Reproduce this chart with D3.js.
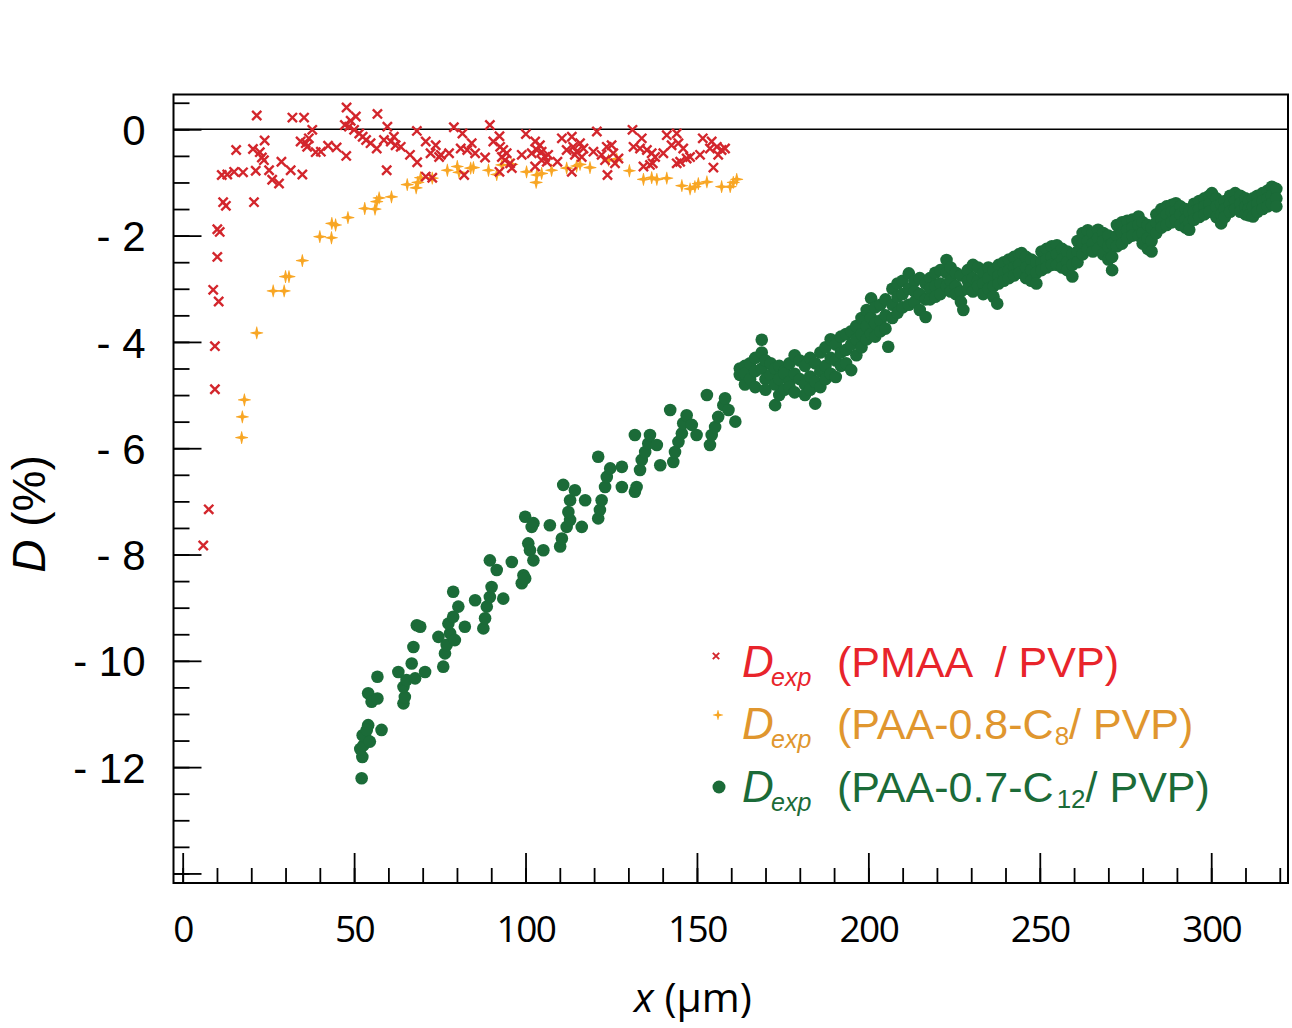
<!DOCTYPE html>
<html>
<head>
<meta charset="utf-8">
<script src="https://cdn.jsdelivr.net/npm/d3@7"></script>
<style>
body { margin: 0; background: #fff; }
svg { display: block; }
.leg { white-space: pre; }
</style>
</head>
<body>
<div id="chart"></div>
<script>
// D exp (PMAA / PVP), [x µm, D %]
var pmaa = [[6.0,-7.83],[7.6,-7.15],[9.4,-4.89],[9.4,-4.08],[8.9,-3.02],[10.5,-3.24],[10.1,-2.40],[10.1,-1.88],[10.8,-1.93],
  [11.8,-1.37],[12.6,-1.44],[11.4,-0.86],[13.0,-0.85],[15.0,-0.80],[17.6,-0.81],[15.6,-0.39],[20.8,-1.37],[21.3,-0.78],
  [20.5,-0.37],[21.6,0.26],[22.5,-0.43],[23.1,-0.53],[23.7,-0.58],[23.9,-0.21],[25.2,-0.77],[26.1,-0.95],[28.1,-1.02],
  [28.8,-0.61],[31.5,-0.77],[32.0,0.22],[34.9,-0.85],[35.4,0.22],[34.4,-0.23],[35.9,-0.26],[36.3,-0.33],[36.8,-0.17],
  [37.8,-0.01],[38.8,-0.43],[40.3,-0.42],[42.4,-0.31],[44.9,-0.34],[47.7,-0.50],[47.8,0.41],[47.3,0.08],[48.5,0.05],
  [49.0,0.16],[50.5,0.24],[50.0,-0.01],[51.5,-0.08],[52.5,-0.14],[53.5,-0.20],[56.8,0.29],[59.7,0.05],[54.8,-0.26],
  [56.6,-0.36],[58.7,-0.20],[60.7,-0.23],[61.6,-0.14],[62.1,-0.30],[63.6,-0.33],[59.5,-0.77],[66.3,-0.48],[68.3,-0.03],
  [68.4,-0.62],[70.9,-0.23],[72.3,-0.45],[73.8,-0.30],[74.8,-0.52],[75.3,-0.48],[70.9,-0.89],[72.8,-0.91],[79.1,0.04],
  [81.6,-0.08],[81.1,-0.36],[83.0,-0.39],[82.1,-0.86],[77.7,-0.45],[89.6,0.08],[92.4,-0.13],[90.6,-0.23],[92.6,-0.33],
  [93.5,-0.39],[94.5,-0.45],[93.1,-0.52],[94.0,-0.58],[95.5,-0.64],[96.0,-0.73],[92.4,-0.80],[84.3,-0.26],[85.3,-0.45],
  [88.2,-0.53],[100.1,-0.09],[98.9,-0.48],[101.8,-0.45],[102.8,-0.23],[104.2,-0.30],[103.3,-0.39],[104.7,-0.42],
  [105.7,-0.52],[106.6,-0.48],[106.2,-0.61],[102.8,-0.70],[104.7,-0.58],[109.3,-0.61],[110.6,-0.17],[113.5,-0.14],
  [112.0,-0.39],[113.9,-0.33],[114.9,-0.42],[115.9,-0.26],[116.9,-0.36],[116.4,-0.52],[114.4,-0.48],[113.5,-0.80],
  [120.8,-0.04],[119.8,-0.42],[122.2,-0.48],[123.7,-0.33],[125.1,-0.30],[123.2,-0.58],[125.6,-0.45],[127.1,-0.55],
  [126.1,-0.64],[123.9,-0.86],[131.2,-0.01],[133.9,-0.17],[131.5,-0.33],[133.4,-0.36],[135.4,-0.39],[136.8,-0.45],
  [137.8,-0.52],[134.4,-0.70],[136.3,-0.67],[137.1,-0.64],[141.2,-0.11],[144.1,-0.08],[140.2,-0.45],[142.6,-0.30],
  [144.6,-0.26],[146.0,-0.36],[145.1,-0.61],[147.0,-0.55],[148.0,-0.52],[144.1,-0.64],[151.7,-0.17],[154.3,-0.23],
  [150.9,-0.48],[153.8,-0.36],[155.8,-0.33],[157.2,-0.39],[156.2,-0.48],[158.2,-0.36],[154.8,-0.72]];

// D exp (PAA-0.8-C8 / PVP)
var paa08 = [[17.2,-5.80],[17.4,-5.41],[18.0,-5.09],[21.6,-3.83],[26.4,-3.04],[29.6,-3.04],[30.0,-2.77],[31.0,-2.77],
  [34.9,-2.47],[40.0,-2.02],[43.4,-2.04],[43.5,-1.77],[44.6,-1.80],[48.2,-1.66],[53.1,-1.49],[56.1,-1.50],[56.6,-1.36],
  [57.3,-1.29],[60.9,-1.27],[65.5,-1.04],[68.1,-1.10],[68.6,-1.00],[69.4,-0.91],[72.8,-0.92],[77.2,-0.77],[80.1,-0.70],
  [80.6,-0.81],[84.0,-0.73],[84.8,-0.72],[89.2,-0.77],[91.6,-0.85],[93.1,-0.67],[96.0,-0.66],[100.3,-0.80],[103.3,-0.86],
  [104.7,-0.83],[103.1,-1.00],[107.6,-0.77],[112.0,-0.73],[114.9,-0.69],[115.9,-0.66],[118.8,-0.72],[124.2,-0.58],
  [126.6,-0.56],[130.3,-0.78],[134.4,-0.94],[136.8,-0.91],[138.3,-0.94],[141.2,-0.92],[145.6,-1.06],[148.0,-1.12],
  [149.4,-1.08],[150.4,-1.02],[152.9,-0.99],[157.2,-1.08],[159.7,-1.08],[160.6,-1.00],[161.6,-0.94]];

// D exp (PAA-0.7-C12 / PVP), sparse part
var paa07 = [[52.2,-12.21],[52.4,-11.81],[51.8,-11.66],[52.7,-11.59],[53.2,-11.43],[52.5,-11.40],[54.1,-11.21],[53.7,-11.30],
  [54.6,-11.52],[58.0,-11.30],[54.1,-10.61],[55.1,-10.77],[56.8,-10.71],[56.8,-10.30],[62.9,-10.21],[64.4,-10.80],
  [64.8,-10.68],[64.4,-10.49],[65.3,-10.36],[66.8,-10.05],[67.8,-10.33],[70.7,-10.21],[67.3,-9.74],[68.3,-9.33],
  [69.3,-9.36],[74.6,-9.55],[76.0,-10.11],[76.5,-9.86],[77.0,-9.70],[78.0,-9.48],[77.5,-9.30],[78.9,-9.17],[80.4,-8.98],
  [79.4,-9.61],[82.3,-9.36],[78.9,-8.70],[85.3,-8.86],[87.7,-9.39],[88.2,-9.20],[88.7,-8.98],[89.6,-8.80],[90.1,-8.61],
  [93.5,-8.83],[89.6,-8.11],[91.6,-8.29],[96.0,-8.14],[98.9,-8.54],[99.4,-8.39],[99.9,-8.45],[99.9,-7.29],[102.3,-7.41],
  [101.8,-7.48],[107.1,-7.45],[100.8,-7.79],[101.3,-7.92],[102.3,-8.11],[105.2,-7.92],[110.1,-7.85],[110.6,-7.70],
  [112.0,-7.48],[113.0,-7.35],[112.5,-7.20],[113.0,-6.98],[114.4,-6.79],[111.0,-6.69],[116.4,-7.48],[117.4,-6.98],
  [121.2,-7.32],[121.7,-7.16],[122.2,-6.98],[123.2,-6.73],[123.7,-6.54],[124.7,-6.38],[128.1,-6.35],[128.1,-6.73],
  [121.2,-6.16],[131.9,-6.82],[132.4,-6.73],[131.9,-5.75],[133.4,-6.41],[133.9,-6.22],[134.9,-6.07],[135.8,-5.91],
  [136.3,-5.75],[138.3,-5.94],[139.3,-6.32],[142.2,-5.28],[143.1,-6.26],[143.6,-6.07],[144.6,-5.88],[145.6,-5.72],
  [146.0,-5.53],[147.0,-5.38],[148.5,-5.56],[149.9,-5.75],[152.9,-5.00],[153.8,-5.94],[154.3,-5.75],[155.3,-5.60],
  [156.2,-5.41],[157.7,-5.19],[158.2,-5.06],[159.2,-5.28],[161.2,-5.50]];

// dense part: [x, D, D, ...] read column by column
var paa07Band = [[162.5,-4.50,-4.62],[164,-4.45,-4.80,-4.60],[165.5,-4.40,-4.70],[167,-4.30,-4.55,-4.85],
  [168.9,-3.96,-4.20,-4.50],[170,-4.35,-4.70,-4.90],[171.5,-4.40,-4.62],[172.8,-4.50,-4.80,-5.19],[174,-4.45,-4.70,-5.00],
  [175.5,-4.55,-4.60,-4.90],[177,-4.40,-4.75,-4.85],[178.5,-4.25,-4.60,-4.95],[180,-4.35,-4.70],[181.5,-4.45,-4.80,-5.00],
  [183,-4.30,-4.65,-4.90],[184.5,-4.40,-4.75,-5.16],[186,-4.20,-4.55,-4.85],[187.5,-4.10,-4.45,-4.70],[189,-3.95,-4.30,-4.60],
  [190.5,-4.05,-4.35,-4.66],[192,-3.90,-4.20,-4.45],[193.5,-3.85,-4.15,-4.40],[195,-3.80,-4.05,-4.53],[196.5,-3.70,-3.95,-4.25],
  [198,-3.55,-3.85,-4.10],[199.5,-3.40,-3.70,-3.95],[200.8,-3.18,-3.55,-3.85],[202,-3.35,-3.65,-3.90],[203.5,-3.30,-3.60,-3.80],
  [205,-3.20,-3.50,-3.75],[205.8,-4.09],[207,-3.00,-3.30,-3.55],[208.5,-2.90,-3.15,-3.45],[210,-2.85,-3.10,-3.35],
  [211.8,-2.71,-3.00,-3.30],[213.5,-2.85,-3.05,-3.25],[215,-2.80,-3.10,-3.40],[216.7,-2.90,-3.20,-3.53],[218,-2.80,-3.00,-3.20],
  [219.5,-2.70,-2.95,-3.15],[221,-2.65,-2.90,-3.10],[222.8,-2.46,-2.70,-2.95],[224,-2.60,-2.85,-3.05],[225.5,-2.70,-2.95,-3.10],
  [227,-2.75,-3.05,-3.25],[227.7,-3.40],[229,-2.65,-2.85,-3.00],[230.5,-2.55,-2.80,-3.05],[232,-2.60,-2.85,-2.95],
  [233.5,-2.70,-2.90,-3.10],[235,-2.60,-2.80,-3.00],[236.5,-2.65,-2.95,-3.15],[237.6,-3.28],[238,-2.55,-2.75,-2.90],
  [239.5,-2.50,-2.70,-2.85],[241,-2.45,-2.65,-2.80],[242.5,-2.40,-2.60,-2.75],[244,-2.35,-2.55,-2.70],[244.7,-2.33],
  [246,-2.40,-2.60,-2.80],[247.5,-2.45,-2.65,-2.85],[249,-2.50,-2.70,-2.90],[250.5,-2.30,-2.50,-2.65],[252,-2.25,-2.45,-2.60],
  [253.5,-2.20,-2.40,-2.55],[255,-2.18,-2.35,-2.55],[256.5,-2.25,-2.45,-2.60],[258,-2.30,-2.50,-2.65],[259.5,-2.35,-2.55,-2.77],
  [261,-2.10,-2.30,-2.50],[262.5,-1.95,-2.15,-2.35],[264,-1.90,-2.10,-2.25],[265.5,-1.95,-2.15,-2.30],[267,-1.89,-2.05,-2.25],
  [268.5,-1.95,-2.10,-2.35],[270,-2.00,-2.20,-2.45],[271.1,-2.15,-2.40,-2.65],[272.5,-1.80,-2.00,-2.20],[274,-1.75,-1.95,-2.15],
  [275.5,-1.72,-1.90,-2.05],[277,-1.70,-1.85,-2.00],[278.8,-1.64,-1.80,-2.00],[280,-1.75,-1.95,-2.15],[281.5,-1.80,-2.05,-2.25],
  [282.6,-1.85,-2.10,-2.30],[284,-1.60,-1.75,-1.95],[285.5,-1.50,-1.70,-1.85],[287,-1.45,-1.60,-1.80],[288.5,-1.42,-1.55,-1.75],
  [289.7,-1.39,-1.55,-1.70],[291,-1.45,-1.60,-1.80],[292.5,-1.50,-1.70,-1.85],[293.6,-1.55,-1.75,-1.89],[295,-1.40,-1.55,-1.70],
  [296.5,-1.35,-1.50,-1.65],[298,-1.30,-1.45,-1.60],[299.5,-1.25,-1.40,-1.55],[300.2,-1.20],[301.5,-1.30,-1.45,-1.65],
  [302.9,-1.40,-1.60,-1.77],[304,-1.35,-1.50,-1.65],[305.5,-1.25,-1.40,-1.55],[307,-1.20,-1.35,-1.50],[308.5,-1.25,-1.40,-1.55],
  [310,-1.30,-1.45,-1.60],[311,-1.35,-1.50,-1.62],[312.2,-1.30,-1.45,-1.64],[313.5,-1.25,-1.40,-1.55],[315,-1.20,-1.35,-1.50],
  [316.5,-1.15,-1.30,-1.45],[317.7,-1.08,-1.25,-1.40],[319,-1.12,-1.30,-1.45]];

var xMajor = [0, 50, 100, 150, 200, 250, 300];
var yMajor = [0, -2, -4, -6, -8, -10, -12, -14];

var red = '#d3262c', orange = '#f8a624', green = '#1b6b38';
var redText = '#e8242b', orangeText = '#e0962e';

var width = 1292, height = 1028;
var mLeft = 173.5, mTop = 94.5, mRight = 1288, mBottom = 883;
var svg = d3.select('#chart').append('svg').attr('width', width).attr('height', height);

var x = d3.scaleLinear().domain([-2.68, 322.4]).range([mLeft, mRight]);
var y = d3.scaleLinear().domain([0.655, -14.18]).range([mTop, mBottom]);

var crossPath = 'M-4.6,-4.6L4.6,4.6M-4.6,4.6L4.6,-4.6';
var plusPath = 'M-0.35,-6.4L0.35,-6.4L1.5,-1.5L6.4,-0.35L6.4,0.35L1.5,1.5L0.35,6.4L-0.35,6.4L-1.5,1.5L-6.4,0.35L-6.4,-0.35L-1.5,-1.5Z';

// zero line
svg.append('line').attr('x1', mLeft).attr('x2', mRight).attr('y1', y(0)).attr('y2', y(0))
  .attr('stroke', '#000').attr('stroke-width', 1.6);

// green dots
var greenPts = paa07.concat(paa07Band.flatMap(r => r.slice(1).map(v => [r[0], v])));
svg.append('g').selectAll('circle').data(greenPts).enter().append('circle')
  .attr('cx', d => x(d[0])).attr('cy', d => y(d[1])).attr('r', 6.3).attr('fill', green);

svg.append('g').selectAll('path').data(paa08).enter().append('path')
  .attr('d', plusPath).attr('fill', orange)
  .attr('transform', d => `translate(${x(d[0])},${y(d[1])})`);

svg.append('g').selectAll('path').data(pmaa).enter().append('path')
  .attr('d', crossPath).attr('fill', 'none').attr('stroke', red).attr('stroke-width', 2.4)
  .attr('transform', d => `translate(${x(d[0])},${y(d[1])})`);

// axes (ticks inward)
function styleAxis(g) {
  g.select('.domain').remove();
  g.selectAll('.tick line').attr('stroke', '#000').attr('stroke-width', 1.8);
}
svg.append('g').attr('transform', `translate(0,${mBottom})`)
  .call(d3.axisBottom(x).tickValues(d3.range(0, 321, 10)).tickSize(-15).tickFormat(''))
  .call(styleAxis);
var xa = svg.append('g').attr('transform', `translate(0,${mBottom})`)
  .call(d3.axisBottom(x).tickValues(xMajor).tickSize(-30).tickPadding(0))
  .call(styleAxis);
xa.selectAll('.tick text').attr('y', 59).attr('dy', 0)
  .style('font-family', '"Open Sans", sans-serif').style('font-size', '37px')
  .style('letter-spacing', '-1.5px').attr('fill', '#000');

svg.append('g').attr('transform', `translate(${mLeft},0)`)
  .call(d3.axisLeft(y).tickValues(d3.range(-14, 0.51, 0.5)).tickSize(-16).tickFormat(''))
  .call(styleAxis);
var ya = svg.append('g').attr('transform', `translate(${mLeft},0)`)
  .call(d3.axisLeft(y).tickValues(yMajor).tickSize(-28).tickPadding(28)
    .tickFormat(d => d === -14 ? '' : (d === 0 ? '0' : '- ' + Math.abs(d))))
  .call(styleAxis);
ya.selectAll('.tick text').attr('dy', '0.36em').style('white-space', 'pre')
  .style('font-family', '"Liberation Sans", Arial, sans-serif').style('font-size', '42px').attr('fill', '#000');

// frame
svg.append('rect').attr('x', mLeft).attr('y', mTop).attr('width', mRight - mLeft).attr('height', mBottom - mTop)
  .attr('fill', 'none').attr('stroke', '#000').attr('stroke-width', 2);

// axis titles
var xt = svg.append('text').attr('x', 693).attr('y', 1012).attr('text-anchor', 'middle')
  .style('font-family', '"Open Sans", sans-serif').style('font-size', '41px');
xt.append('tspan').style('font-style', 'italic').text('x');
xt.append('tspan').text(' (µm)');

var yt = svg.append('text').attr('transform', 'translate(45,514) rotate(-90)').attr('text-anchor', 'middle')
  .style('font-family', '"Liberation Sans", Arial, sans-serif').style('font-size', '46px');
yt.append('tspan').style('font-style', 'italic').text('D');
yt.append('tspan').text(' (%)');

// legend
var legend = [
  {color: red, text: redText, label: '(PMAA  / PVP)', sub: '', rest: '', base: 677, my: 656},
  {color: orange, text: orangeText, label: '(PAA-0.8-C', sub: '8', rest: '/ PVP)', base: 739, my: 715},
  {color: green, text: green, label: '(PAA-0.7-C', sub: '12', rest: '/ PVP)', base: 802, my: 787}
];
var lg = svg.append('g').style('font-family', '"Liberation Sans", Arial, sans-serif');
legend.forEach(function (d, i) {
  if (i === 0) {
    lg.append('path').attr('d', 'M-3.2,-3.2L3.2,3.2M-3.2,3.2L3.2,-3.2').attr('stroke', d.color).attr('stroke-width', 1.9)
      .attr('transform', `translate(716,${d.my})`);
  } else if (i === 1) {
    lg.append('path').attr('d', plusPath).attr('fill', d.color).attr('transform', `translate(718,${d.my}) scale(0.8)`);
  } else {
    lg.append('circle').attr('cx', 719).attr('cy', d.my).attr('r', 6.5).attr('fill', d.color);
  }
  lg.append('text').attr('x', 742).attr('y', d.base).attr('fill', d.text)
    .style('font-size', '44px').style('font-style', 'italic').text('D');
  lg.append('text').attr('x', 771).attr('y', d.base + 9).attr('fill', d.text)
    .style('font-size', '25px').style('font-style', 'italic').text('exp');
  var t = lg.append('text').attr('class', 'leg').attr('x', 837).attr('y', d.base).attr('fill', d.text)
    .style('font-size', '43px');
  t.append('tspan').text(d.label);
  if (d.sub) {
    t.append('tspan').attr('dy', 6).attr('dx', d.sub.length > 1 ? 3 : 1).style('font-size', '26px').text(d.sub);
    t.append('tspan').attr('dy', -6).attr('dx', 0).text(d.rest);
  }
});
</script>
</body>
</html>
